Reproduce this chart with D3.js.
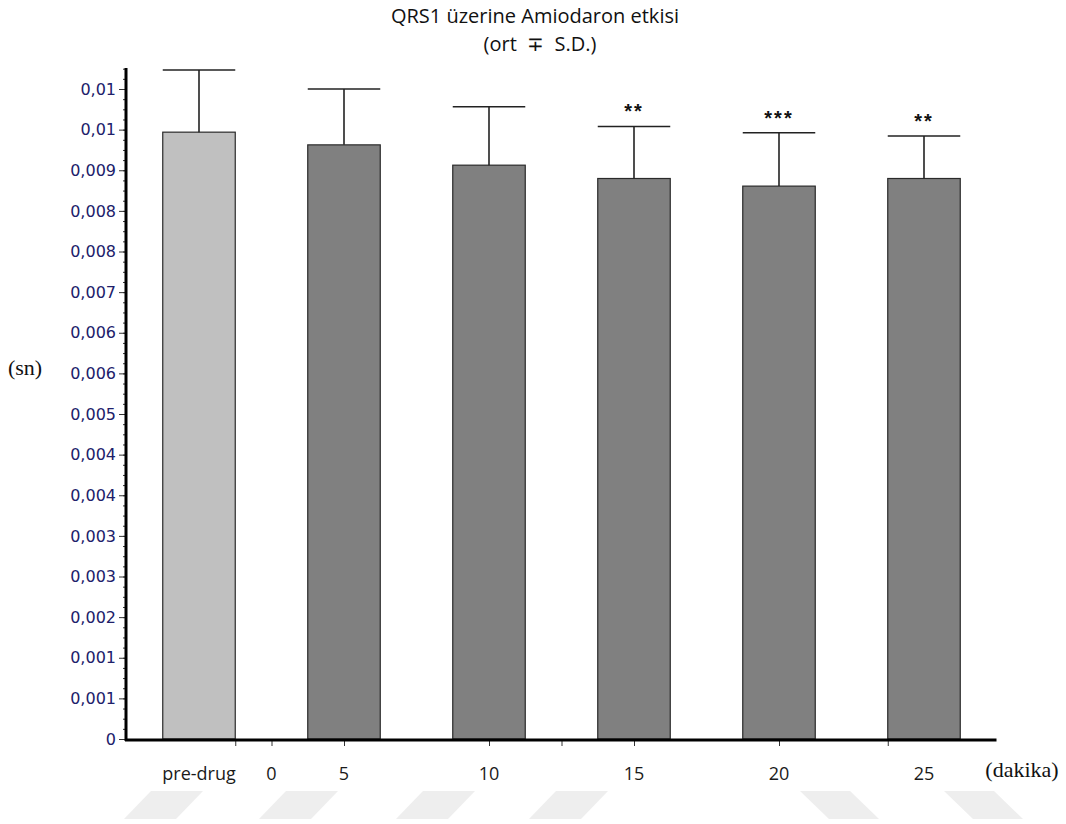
<!DOCTYPE html>
<html>
<head>
<meta charset="utf-8">
<script src="https://cdn.jsdelivr.net/npm/d3@7"></script>
<style>
  html, body { margin: 0; padding: 0; background: #fff; }
  svg { display: block; }
</style>
</head>
<body>
<script>
// QRS1 duration under amiodarone, mean ± SD per time point
const categories = ["pre-drug", "5", "10", "15", "20", "25"];
const categorySlot = [0, 2, 4, 6, 8, 10];          // position on the time axis (slot units)
const meanValues = [0.00956, 0.00936, 0.00904, 0.00883, 0.00871, 0.00883];
const sdValues   = [0.00098, 0.00088, 0.00092, 0.00082, 0.00084, 0.00067];
const significance = ["", "", "", "**", "***", "**"];

// x axis labels and tick marks (slot units)
const xLabels = ["pre-drug", "0", "5", "10", "15", "20", "25"];
const xLabelSlot = [0, 1, 2, 4, 6, 8, 10];
const xTickSlot = [0.5, 1, 2, 4, 5, 6, 8, 9.5];

// y axis: major ticks every 0.00064, labels rounded to three decimals
const yTickStep = 0.00064;
const yTickLabels = ["0", "0,001", "0,001", "0,002", "0,003", "0,003", "0,004", "0,004",
  "0,005", "0,006", "0,006", "0,007", "0,008", "0,008", "0,009", "0,01", "0,01"];
const yMinorStep = 0.00016;
const yAxisTop = 0.01057;

const W = 1066, H = 824;
const svg = d3.select("body").append("svg").attr("width", W).attr("height", H);
svg.append("rect").attr("width", W).attr("height", H).attr("fill", "#fff");

// faint diagonal strip decoration along the bottom edge
const deco = svg.append("g").attr("fill", "#eeeeee");
const leftStrips = [151, 286, 423, 556];
const rightStrips = [800, 944];
leftStrips.forEach(x0 => {
  deco.append("polygon").attr("points",
    `${x0},791 ${x0 + 52},791 ${x0 + 25},819 ${x0 - 27},819`);
});
rightStrips.forEach(x0 => {
  deco.append("polygon").attr("points",
    `${x0},791 ${x0 + 50},791 ${x0 + 79},819 ${x0 + 29},819`);
});

const x = d3.scaleLinear().domain([-1, 11]).range([126.5, 996.5]);
const slotWidth = x(1) - x(0);
const y = d3.scaleLinear().domain([0, yTickStep * 16]).range([739, 89]);

const sansFont = "'Open Sans', 'Noto Sans', sans-serif";
const tickFont = "'DejaVu Sans', Verdana, sans-serif";
const serifFont = "'Liberation Serif', 'Times New Roman', serif";

// bars
const rows = categories.map((c, i) => ({
  c, slot: categorySlot[i], mean: meanValues[i], sd: sdValues[i], sig: significance[i]
}));

const barG = svg.append("g");
barG.selectAll("rect").data(rows).join("rect")
  .attr("x", d => x(d.slot) - slotWidth / 2)
  .attr("width", slotWidth)
  .attr("y", d => y(d.mean))
  .attr("height", d => y(0) - y(d.mean))
  .attr("fill", (d, i) => i === 0 ? "#c0c0c0" : "#808080")
  .attr("stroke", "#2a2a2a")
  .attr("stroke-width", 1.2);

// error bars: stem from bar top, cap spanning the bar width
const errG = svg.append("g").attr("stroke", "#222").attr("stroke-width", 1.6);
errG.selectAll("line.stem").data(rows).join("line").attr("class", "stem")
  .attr("x1", d => x(d.slot)).attr("x2", d => x(d.slot))
  .attr("y1", d => y(d.mean)).attr("y2", d => y(d.mean + d.sd));
errG.selectAll("line.cap").data(rows).join("line").attr("class", "cap")
  .attr("x1", d => x(d.slot) - slotWidth / 2).attr("x2", d => x(d.slot) + slotWidth / 2)
  .attr("y1", d => y(d.mean + d.sd)).attr("y2", d => y(d.mean + d.sd));

// significance stars
svg.append("g").selectAll("text").data(rows.filter(d => d.sig)).join("text")
  .attr("x", d => x(d.slot))
  .attr("y", d => y(d.mean + d.sd) - 8)
  .attr("text-anchor", "middle")
  .attr("font-family", "'Liberation Sans', Arial, sans-serif")
  .attr("font-weight", "bold")
  .attr("font-size", 20)
  .attr("letter-spacing", 2)
  .attr("fill", "#111")
  .text(d => d.sig);

// y axis: minor ticks, then major ticks with labels
const minorVals = d3.range(0, Math.floor(yAxisTop / yMinorStep) + 1).map(k => k * yMinorStep);
const majorVals = yTickLabels.map((_, k) => k * yTickStep);

const yMinor = svg.append("g").attr("transform", "translate(126,0)")
  .call(d3.axisLeft(y).tickValues(minorVals).tickSize(3).tickFormat(""));
yMinor.select(".domain").remove();
yMinor.selectAll("line").attr("stroke", "#333").attr("stroke-width", 1);

const yMajor = svg.append("g").attr("transform", "translate(126,0)")
  .call(d3.axisLeft(y).tickValues(majorVals).tickSize(7).tickPadding(3)
    .tickFormat((d, i) => yTickLabels[i]));
yMajor.select(".domain").remove();
yMajor.selectAll("line").attr("stroke", "#333").attr("stroke-width", 1);
yMajor.selectAll("text")
  .attr("font-family", tickFont).attr("font-size", 16).attr("fill", "#20206a");

svg.append("line")
  .attr("x1", 126).attr("x2", 126).attr("y1", y(yAxisTop)).attr("y2", 741)
  .attr("stroke", "#000").attr("stroke-width", 3);

// x axis
const xAxis = svg.append("g").attr("transform", "translate(0,740)")
  .call(d3.axisBottom(x).tickValues(xTickSlot).tickSize(6).tickFormat(""));
xAxis.select(".domain").remove();
xAxis.selectAll("line").attr("stroke", "#333").attr("stroke-width", 1);

svg.append("line")
  .attr("x1", 125).attr("x2", x(11)).attr("y1", 740).attr("y2", 740)
  .attr("stroke", "#000").attr("stroke-width", 3);

svg.append("g").selectAll("text").data(xLabels).join("text")
  .attr("x", (d, i) => x(xLabelSlot[i]))
  .attr("y", 780)
  .attr("text-anchor", "middle")
  .attr("font-family", sansFont).attr("font-size", 18).attr("fill", "#1a1a1a")
  .text(d => d);

// axis unit labels
svg.append("text").attr("x", 25).attr("y", 375).attr("text-anchor", "middle")
  .attr("font-family", serifFont).attr("font-size", 22).attr("fill", "#111")
  .text("(sn)");
svg.append("text").attr("x", 1022).attr("y", 777).attr("text-anchor", "middle")
  .attr("font-family", serifFont).attr("font-size", 22).attr("fill", "#111")
  .text("(dakika)");

// title
svg.append("text").attr("x", 535).attr("y", 23).attr("text-anchor", "middle")
  .attr("font-family", sansFont).attr("font-size", 20).attr("fill", "#111")
  .text("QRS1 üzerine Amiodaron etkisi");
svg.append("text").attr("x", 540).attr("y", 51).attr("text-anchor", "middle")
  .attr("font-family", sansFont).attr("font-size", 20).attr("fill", "#111")
  .attr("xml:space", "preserve").style("white-space", "pre")
  .text("(ort  \u2213  S.D.)");
</script>
</body>
</html>
